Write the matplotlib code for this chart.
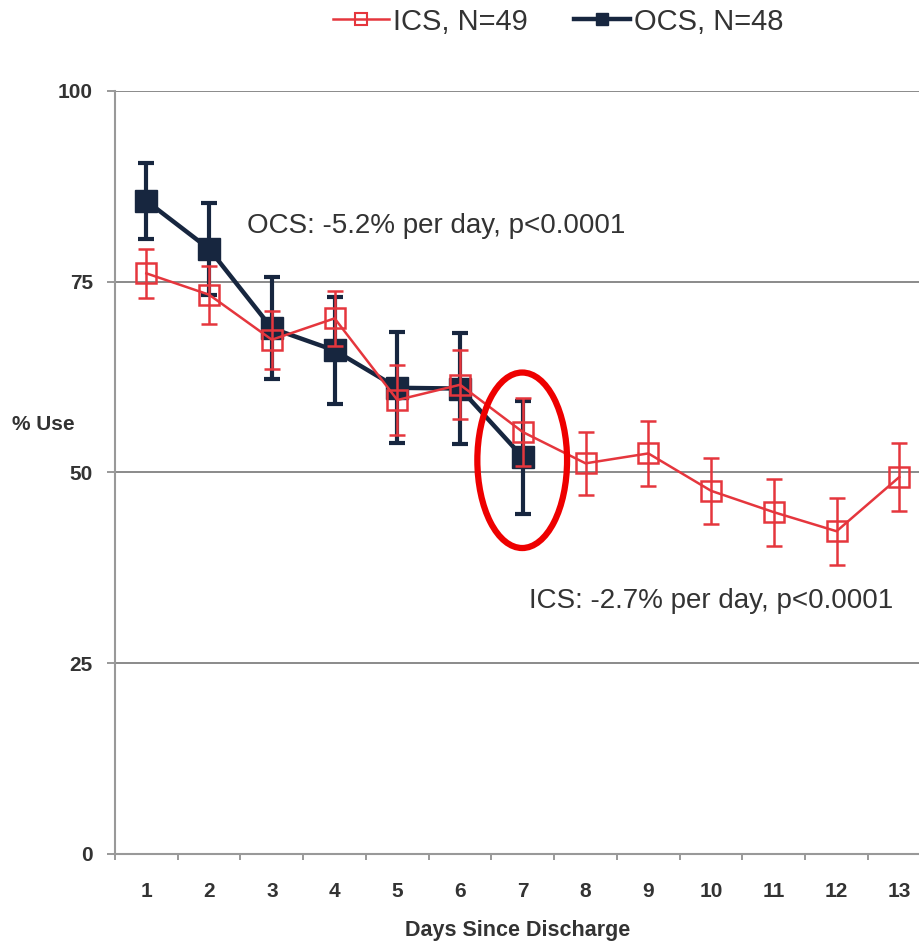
import numpy as np
import matplotlib.pyplot as plt
from matplotlib.patches import Ellipse
from matplotlib.lines import Line2D

plt.rcParams['font.family'] = ['Liberation Sans', 'DejaVu Sans']

# Data
days = [1, 2, 3, 4, 5, 6, 7, 8, 9, 10, 11, 12, 13]
ics = [76.1, 73.3, 67.4, 70.2, 59.5, 61.5, 55.3, 51.2, 52.5, 47.6, 44.8, 42.3, 49.4]
ics_err = [3.2, 3.8, 3.8, 3.6, 4.6, 4.5, 4.5, 4.1, 4.3, 4.3, 4.4, 4.4, 4.4]
ocs_days = [1, 2, 3, 4, 5, 6, 7]
ocs = [85.6, 79.3, 68.9, 66.0, 61.1, 61.0, 52.0]
ocs_err = [5.0, 6.0, 6.7, 7.0, 7.3, 7.3, 7.4]

red = '#e5363d'
navy = '#17263f'
txt = '#333333'

fig = plt.figure(figsize=(9.2, 9.43), dpi=100)
ax = fig.add_axes([0.125, 0.0944, 0.875, 0.8091])

# OCS series (dark, filled squares)
ax.errorbar(ocs_days, ocs, yerr=ocs_err, color=navy, lw=3.2, marker='s',
            ms=16, mfc=navy, mec=navy, elinewidth=3.0, capsize=6, capthick=3.0,
            zorder=3)
# ICS series (red, open squares)
ax.errorbar(days, ics, yerr=ics_err, color=red, lw=1.8, marker='s',
            ms=15, mfc='none', mec=red, mew=1.8, elinewidth=1.8, capsize=6,
            capthick=1.8, zorder=4)

# highlight ellipse around day 7
ax.add_patch(Ellipse((6.99, 51.6), 1.43, 23.0, fill=False, ec='#ee0000',
                     lw=4.5, zorder=5))

ax.text(2.61, 82.3, 'OCS: -5.2% per day, p<0.0001', fontsize=20,
        color=txt, va='center', ha='left')
ax.text(7.10, 33.2, 'ICS: -2.7% per day, p<0.0001', fontsize=20,
        color=txt, va='center', ha='left')

ax.set_xlim(0.5, 13.33)
ax.set_ylim(0, 100)
ax.set_xticks(days)
ax.set_xticks(np.arange(0.5, 13.5, 1.0), minor=True)
ax.set_yticks([0, 25, 50, 75, 100])
ax.tick_params(axis='x', which='major', length=0, pad=20)
ax.tick_params(axis='x', which='minor', length=4, width=1.2, color='#888888')
ax.tick_params(axis='y', length=6, width=1.2, color='#888888', pad=10)
for lab in ax.get_xticklabels() + ax.get_yticklabels():
    lab.set_fontsize(15)
    lab.set_fontweight('bold')
    lab.set_color(txt)
ax.yaxis.grid(True, color='#777777', lw=1.2)
ax.set_axisbelow(True)
for side in ['top', 'right']:
    ax.spines[side].set_visible(False)
ax.spines['left'].set_color('#999999')
ax.spines['left'].set_linewidth(1.5)
ax.spines['bottom'].set_color('#999999')
ax.spines['bottom'].set_linewidth(1.5)

ax.set_xlabel('Days Since Discharge', fontsize=15.5, fontweight='bold',
              color=txt, labelpad=14)
fig.text(0.0125, (943 - 425) / 943, '% Use', fontsize=15, fontweight='bold',
         color=txt, ha='left', va='center')

handles = [
    Line2D([], [], color=red, lw=1.8, marker='s', ms=8, mfc='none', mec=red,
           mew=1.5),
    Line2D([], [], color=navy, lw=3.2, marker='s', ms=8, mfc=navy, mec=navy),
]
fig.legend(handles, ['ICS, N=49', 'OCS, N=48'], loc='center',
           bbox_to_anchor=(0.607, 0.977), ncol=2, frameon=False, fontsize=21,
           handlelength=1.9, handletextpad=0.15, columnspacing=1.6,
           labelcolor=txt)

fig.savefig('out.png', dpi=100)
